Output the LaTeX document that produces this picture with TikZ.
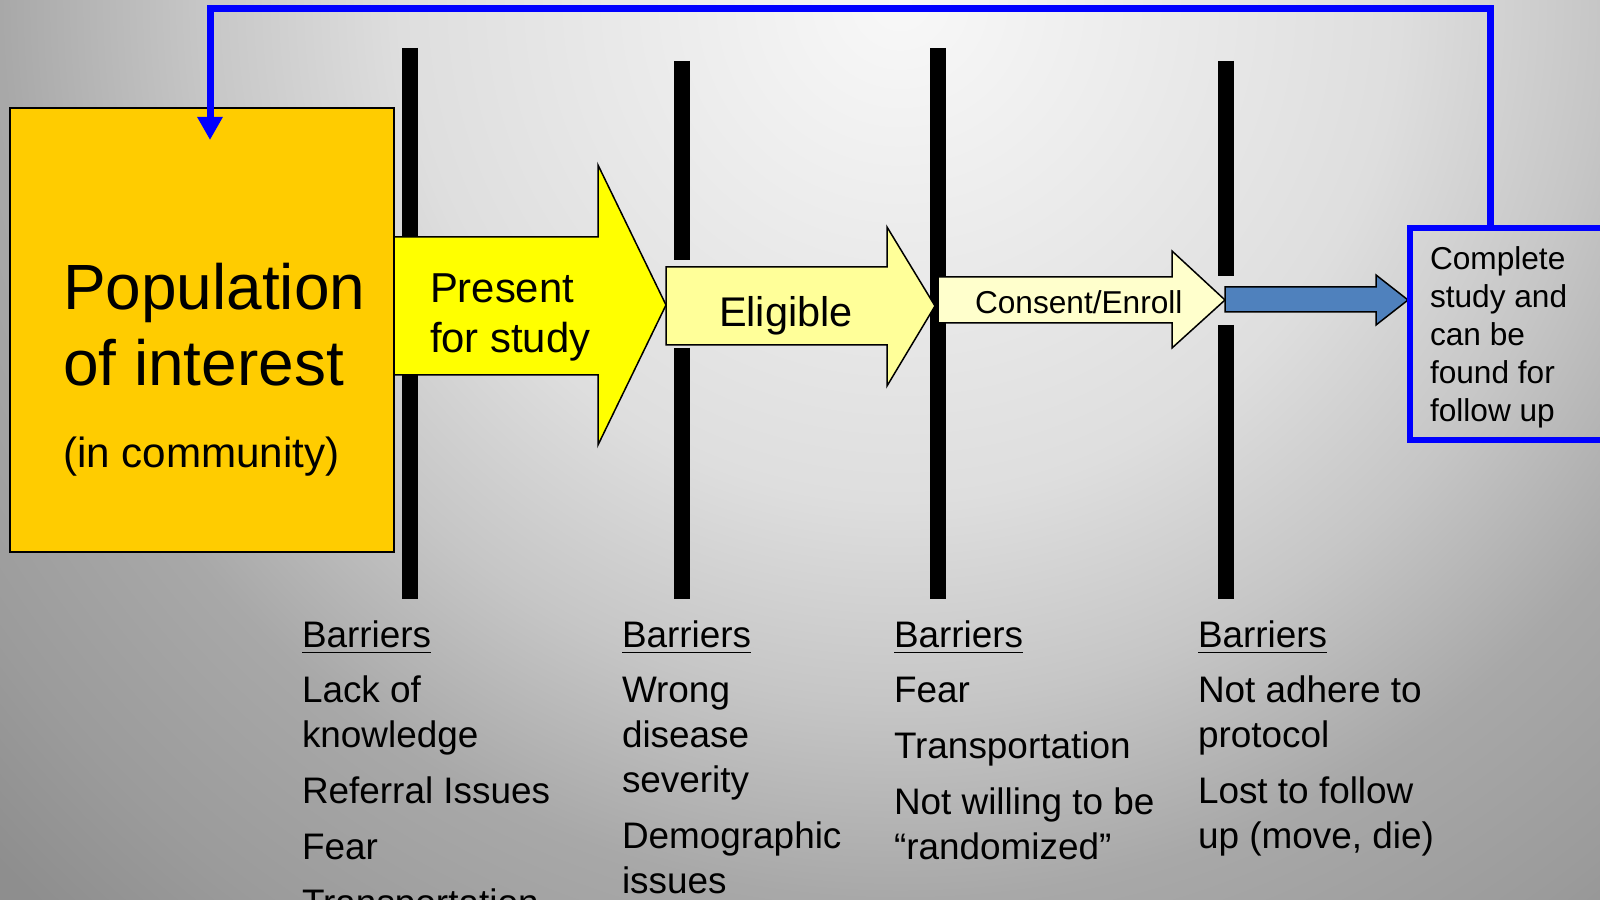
\documentclass[tikz,border=0pt]{standalone}
\usepackage{fontspec}
\setmainfont{Liberation Sans}
\usetikzlibrary{arrows.meta,calc}

\definecolor{popcol}{HTML}{FFCC00}
\definecolor{presentcol}{HTML}{FFFF00}
\definecolor{eligcol}{HTML}{FFFF99}
\definecolor{consentcol}{HTML}{FFFFCC}
\definecolor{steelcol}{HTML}{4F81BD}
\definecolor{loopblue}{HTML}{0000FF}
\definecolor{bgA}{gray}{0.973}
\definecolor{bgB}{gray}{0.871}
\definecolor{bgC}{gray}{0.776}
\definecolor{bgD}{gray}{0.659}
\definecolor{bgE}{gray}{0.608}
\definecolor{bgF}{gray}{0.557}

\pgfdeclareradialshading{bgshade}{\pgfpoint{0bp}{0bp}}{color(0bp)=(bgA); color(9.6bp)=(bgB); color(13.5bp)=(bgC); color(17.3bp)=(bgD); color(21.2bp)=(bgE); color(24bp)=(bgF); color(50bp)=(bgF)}

\newcommand\lblock[1]{\begin{tabular}[t]{@{}l@{}}#1\end{tabular}}

\tikzset{
  barline/.style={draw=black, line width=1.6mm},
  blockarrow/.style={draw=black, line width=0.15mm, line join=miter},
  loopline/.style={draw=loopblue, line width=0.7mm, -{Triangle[width=2.4mm,length=2.3mm]}},
  lbl/.style={inner sep=0, outer sep=0, anchor=base west, text=black},
  barrierfont/.style={font=\fontsize{10.5pt}{12.8pt}\selectfont},
}

\begin{document}
\begin{tikzpicture}[x=0.1mm, y=-0.1mm]
\useasboundingbox (0,0) rectangle (1600,900);
\begin{scope}
  \clip (0,0) rectangle (1600,900);
  \shade[shading=bgshade] (900,0) circle (1300);
\end{scope}

% population box
\node[draw=black, fill=popcol, line width=0.2mm, minimum width=38.4mm,
      minimum height=44.4mm, inner sep=0, outer sep=0, anchor=north west] (pop) at (10,108) {};

% barrier bars
\draw[barline] (410,48) -- (410,599);
\draw[barline] (682,61) -- (682,260);
\draw[barline] (682,348) -- (682,599);
\draw[barline] (938,48) -- (938,599);
\draw[barline] (1226,61) -- (1226,276);
\draw[barline] (1226,325) -- (1226,599);

% block arrows
\draw[blockarrow, fill=presentcol] (394,237) -- (598,237) -- (598,165) -- (666,305)
   -- (598,445) -- (598,375) -- (394,375) -- cycle;
\draw[blockarrow, fill=eligcol] (666,267) -- (887,267) -- (887,227) -- (935,306)
   -- (887,386) -- (887,345) -- (666,345) -- cycle;
\draw[blockarrow, fill=consentcol] (938,277) -- (1172,277) -- (1172,251) -- (1225,300)
   -- (1172,348) -- (1172,323) -- (938,323) -- cycle;
\draw[blockarrow, fill=steelcol] (1225,287) -- (1376,287) -- (1376,275) -- (1408,300)
   -- (1376,325) -- (1376,312) -- (1225,312) -- cycle;

% texts
\node[lbl, font=\fontsize{18.2pt}{21.6pt}\selectfont] (poptext) at (63,310)
   {\lblock{Population\\of interest}};
\node[lbl, font=\fontsize{12pt}{14pt}\selectfont] (popsub) at (63,467) {(in community)};
\node[lbl, font=\fontsize{11.9pt}{14.2pt}\selectfont] (present) at (430,303)
   {\lblock{Present\\for study}};
\node[lbl, font=\fontsize{11.8pt}{14pt}\selectfont] (eligible) at (719,326) {Eligible};
\node[lbl, font=\fontsize{9pt}{11pt}\selectfont] (consent) at (975,313) {Consent/Enroll};

% complete box
\node[draw=loopblue, line width=0.6mm, minimum width=22mm, minimum height=21.2mm,
      inner sep=0, outer sep=0, anchor=north west] (complete) at (1410,228) {};
\node[lbl, font=\fontsize{9pt}{10.8pt}\selectfont] (completetext) at (1430,270)
   {\lblock{Complete\\study and\\can be\\found for\\follow up}};

% loop back
\coordinate (loopend) at (210,140);
\draw[loopline] ($(complete.north west)+(80,0)$) -- ++(0,-219) -| (loopend);

% barriers
\node[lbl, barrierfont] (bar1) at (302,647)
  {\lblock{\underline{Barriers}\\[3.1pt]Lack of\\knowledge\\[3.1pt]Referral Issues\\[3.1pt]Fear\\[3.1pt]Transportation}};
\node[lbl, barrierfont] (bar2) at (622,647)
  {\lblock{\underline{Barriers}\\[3.1pt]Wrong\\disease\\severity\\[3.1pt]Demographic\\issues}};
\node[lbl, barrierfont] (bar3) at (894,647)
  {\lblock{\underline{Barriers}\\[3.1pt]Fear\\[3.1pt]Transportation\\[3.1pt]Not willing to be\\“randomized”}};
\node[lbl, barrierfont] (bar4) at (1198,647)
  {\lblock{\underline{Barriers}\\[3.1pt]Not adhere to\\protocol\\[3.1pt]Lost to follow\\up (move, die)}};
\end{tikzpicture}
\end{document}
